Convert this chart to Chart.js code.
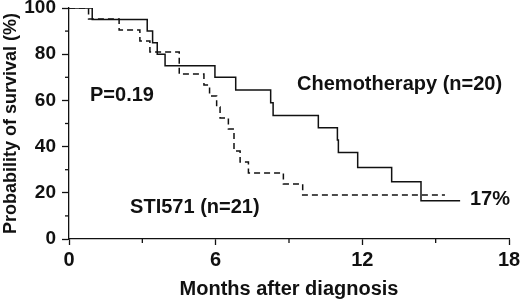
<!DOCTYPE html>
<html><head><meta charset="utf-8">
<script src="https://cdn.jsdelivr.net/npm/chart.js@4/dist/chart.umd.min.js"></script>
<style>html,body{margin:0;padding:0;background:#fff}canvas{display:block}</style>
</head><body>
<canvas id="c" width="520" height="303"></canvas>
<script>
const chemoMonths   = [0, 0.95, 3.2, 3.42, 3.61, 3.93, 5.97, 6.82, 8.25, 8.35, 10.2, 10.98, 11.02, 11.81, 13.2, 14.4, 16.0];
const chemoSurvival = [100, 95, 90, 85, 80, 75, 70, 64.5, 59, 53.5, 48.2, 42.9, 37.5, 31, 24.8, 16.6, 16.6];
const stiMonths     = [0, 0.8, 2.05, 2.9, 3.31, 4.51, 5.52, 5.75, 6.04, 6.18, 6.52, 6.75, 7.0, 7.34, 8.77, 9.56, 15.38];
const stiSurvival   = [100, 95.2, 90.5, 85.7, 81.0, 71.4, 66.7, 61.9, 57.1, 52.4, 47.6, 38.1, 33.3, 28.6, 23.8, 19.0, 19.0];
const xTicks = [0, 6, 12, 18];
const yTicks = [0, 20, 40, 60, 80, 100];
const xMinorTicks = [3, 9, 15];
const yMinorTicks = [10, 30, 50, 70, 90];
const labelTexts = ['P=0.19', 'Chemotherapy (n=20)', 'STI571 (n=21)', '17%'];
const xTitle = 'Months after diagnosis';
const yTitle = 'Probability of survival (%)';

const FONT = '"Liberation Sans", Arial, Helvetica, sans-serif';
const INK = '#111';

const toPts = (xs, ys) => xs.map((x, i) => ({x, y: ys[i]}));

const extras = {
  id: 'extras',
  afterDraw(chart) {
    const {ctx, scales: {x, y}} = chart;
    ctx.save();
    ctx.strokeStyle = INK;
    ctx.lineWidth = 1.3;
    // minor ticks
    xMinorTicks.forEach(v => {
      const px = x.getPixelForValue(v);
      ctx.beginPath(); ctx.moveTo(px, y.bottom); ctx.lineTo(px, y.bottom + 4); ctx.stroke();
    });
    yMinorTicks.forEach(v => {
      const py = y.getPixelForValue(v);
      ctx.beginPath(); ctx.moveTo(x.left, py); ctx.lineTo(x.left - 4, py); ctx.stroke();
    });
    // text labels anchored in data coordinates
    const anchors = [[0.86, 62], [9.33, 66.7], [2.5, 13.6], [16.4, 16.9]];
    ctx.fillStyle = INK;
    ctx.font = 'bold 20px ' + FONT;
    ctx.textBaseline = 'middle';
    ctx.textAlign = 'left';
    labelTexts.forEach((t, i) => {
      ctx.fillText(t, x.getPixelForValue(anchors[i][0]), y.getPixelForValue(anchors[i][1]));
    });
    ctx.restore();
  }
};

new Chart(document.getElementById('c'), {
  type: 'line',
  data: {
    datasets: [
      {
        label: 'Chemotherapy (n=20)',
        data: toPts(chemoMonths, chemoSurvival),
        borderColor: INK, borderWidth: 1.5, stepped: true,
        pointRadius: 0, fill: false
      },
      {
        label: 'STI571 (n=21)',
        data: toPts(stiMonths, stiSurvival),
        borderColor: INK, borderWidth: 1.5, stepped: true, borderDash: [6, 4],
        pointRadius: 0, fill: false
      }
    ]
  },
  options: {
    responsive: false,
    animation: false,
    devicePixelRatio: 1,
    layout: {padding: {left: 0, right: 11, top: 8, bottom: 0}},
    plugins: {legend: {display: false}, tooltip: {enabled: false}},
    scales: {
      x: {
        type: 'linear', min: 0, max: 18,
        afterBuildTicks: s => { s.ticks = xTicks.map(v => ({value: v})); },
        afterFit: s => { s.height = 64; s.paddingLeft = 0; s.paddingRight = 0; },
        border: {color: INK, width: 1.3},
        grid: {drawOnChartArea: false, drawTicks: true, tickLength: 6, color: INK, tickWidth: 1.3},
        ticks: {color: INK, font: {family: FONT, size: 20, weight: 'bold'}, padding: 3, maxRotation: 0, autoSkip: false},
        title: {display: true, text: xTitle, color: INK, font: {family: FONT, size: 20, weight: 'bold'}, padding: {top: 0, bottom: 2}}
      },
      y: {
        type: 'linear', min: 0, max: 100,
        afterBuildTicks: s => { s.ticks = yTicks.map(v => ({value: v})); },
        afterFit: s => { s.width = 69; s.paddingTop = 0; s.paddingBottom = 0; },
        border: {color: INK, width: 1.3},
        grid: {drawOnChartArea: false, drawTicks: true, tickLength: 7, color: INK, tickWidth: 1.3},
        ticks: {color: INK, font: {family: FONT, size: 19, weight: 'bold'}, padding: 6, autoSkip: false},
        title: {display: true, text: yTitle, color: INK, font: {family: FONT, size: 18, weight: 'bold'}, padding: 0}
      }
    }
  },
  plugins: [extras]
});
</script>
</body></html>
